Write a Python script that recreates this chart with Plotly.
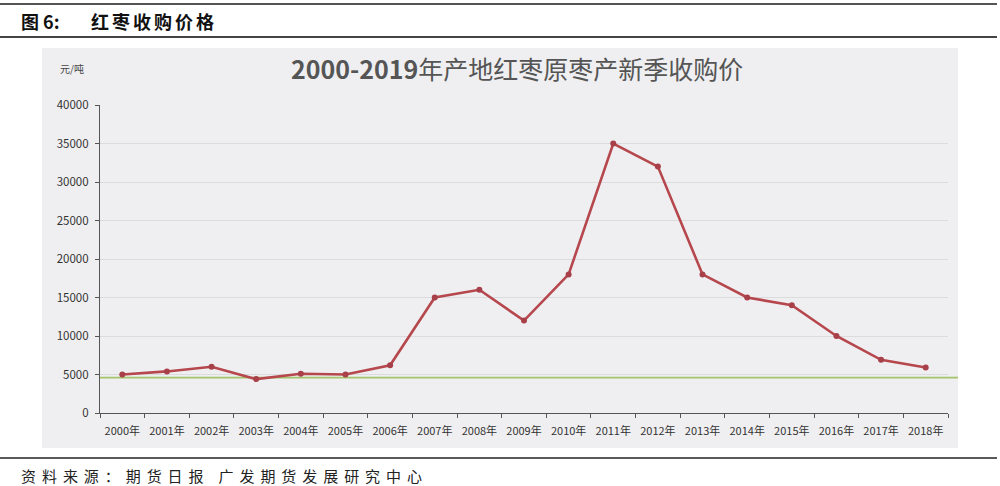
import plotly.graph_objects as go

years = [f"{y}年" for y in range(2000, 2019)]
prices = [5000, 5400, 6000, 4400, 5100, 5000, 6200, 15000, 16000, 12000,
          18000, 35000, 32000, 18000, 15000, 14000, 10000, 6900, 5900]
ref_level = 4600  # green horizontal line
y_ticks = list(range(0, 40001, 5000))

W, H = 1000, 486
L, R, T, B = 100, 52, 105, 73  # plot area in pixels
pw, ph = W - L - R, H - T - B


def px(x):
    return (x - L) / pw


def py(y):
    return (H - B - y) / ph


def spaced(s, sp):
    return sp.join(s)


fig = go.Figure()
fig.add_trace(go.Scatter(
    x=years, y=prices, mode="lines+markers",
    line=dict(color="#b5474d", width=2.6),
    marker=dict(color="#a8404a", size=6),
    hoverinfo="x+y", showlegend=False,
))

shapes = [
    # grey chart panel
    dict(type="rect", xref="paper", yref="paper", layer="below",
         x0=px(42), x1=px(958), y0=py(448), y1=py(48),
         fillcolor="#efeff1", line=dict(width=0)),
    # page rules
    dict(type="line", xref="paper", yref="paper", x0=px(0), x1=px(997),
         y0=py(4), y1=py(4), line=dict(color="#555", width=2)),
    dict(type="line", xref="paper", yref="paper", x0=px(0), x1=px(997),
         y0=py(37), y1=py(37), line=dict(color="#444", width=2)),
    dict(type="line", xref="paper", yref="paper", x0=px(0), x1=px(997),
         y0=py(458), y1=py(458), line=dict(color="#222", width=1.5)),
    # green reference line
    dict(type="line", xref="paper", yref="y", x0=0, x1=px(958),
         y0=ref_level, y1=ref_level, layer="below",
         line=dict(color="#a3c46a", width=1.8)),
]

annotations = [
    dict(text="<b>图 6:</b>", xref="paper", yref="paper",
         x=px(19), y=py(21), xanchor="left", yanchor="middle", showarrow=False,
         font=dict(family="Noto Sans CJK SC", size=18, color="#111")),
    dict(text="<b>" + spaced("红枣收购价格", "\u2006") + "</b>", xref="paper", yref="paper",
         x=px(89), y=py(21), xanchor="left", yanchor="middle", showarrow=False,
         font=dict(family="Noto Sans CJK SC", size=18, color="#111")),
    dict(text="<b>2000-2019</b>年产地红枣原枣产新季收购价", xref="paper", yref="paper",
         x=px(517), y=py(68), xanchor="center", yanchor="middle", showarrow=False,
         font=dict(family="Noto Sans CJK SC", size=25, color="#555")),
    dict(text="元/吨", xref="paper", yref="paper",
         x=px(58), y=py(68), xanchor="left", yanchor="middle", showarrow=False,
         font=dict(family="Noto Sans CJK SC", size=10, color="#444")),
    dict(text=spaced("资料来源：期货日报", "\u2004\u200a") + "\u2003" + spaced("广发期货发展研究中心", "\u2004\u200a"),
         xref="paper", yref="paper",
         x=px(19), y=py(475), xanchor="left", yanchor="middle", showarrow=False,
         font=dict(family="Noto Sans CJK SC", size=15, color="#222")),
]

fig.update_layout(
    width=W, height=H,
    margin=dict(l=L, r=R, t=T, b=B),
    paper_bgcolor="white", plot_bgcolor="rgba(0,0,0,0)",
    shapes=shapes, annotations=annotations,
    font=dict(family="Noto Sans CJK SC", color="#444"),
)
fig.update_xaxes(
    type="category", range=[-0.5, 18.5], tickson="boundaries",
    ticks="outside", ticklen=4, tickcolor="#555", tickangle=0,
    ticklabelstandoff=8,
    showline=True, linecolor="#555", linewidth=1.2,
    showgrid=False, tickfont=dict(size=11, color="#333"),
)
fig.update_yaxes(
    range=[0, 40000], tickvals=y_ticks, ticktext=[str(v) for v in y_ticks],
    ticks="outside", ticklen=4, tickcolor="#555", ticklabelstandoff=4,
    showline=True, linecolor="#555", linewidth=1.2,
    showgrid=True, gridcolor="#dcdcdf", gridwidth=1, zeroline=False,
    tickfont=dict(size=11.5, color="#333"),
)

fig.write_html("out.html", config={"displayModeBar": False},
               post_script="document.body.style.margin='0';")
